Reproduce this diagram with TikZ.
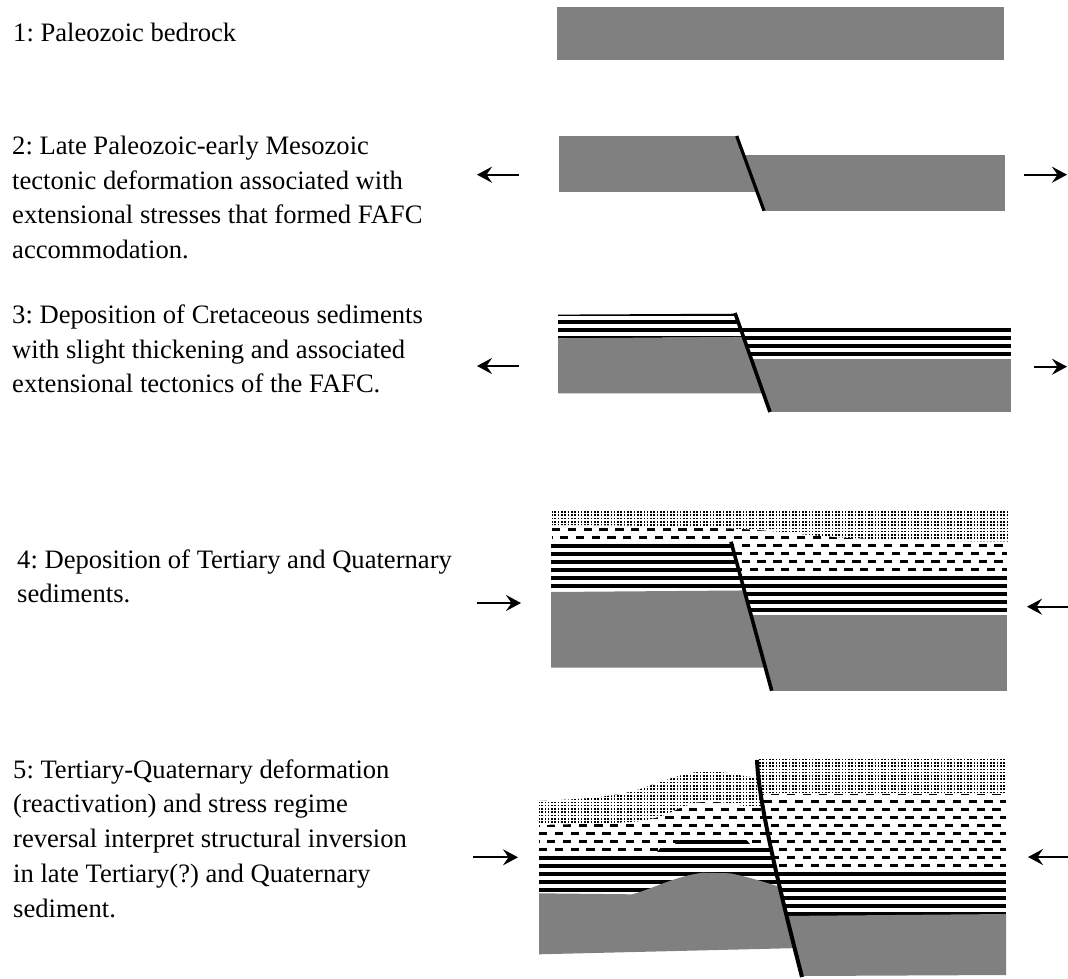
\documentclass[tikz,border=0pt]{standalone}
\usepackage{fontspec}
\setmainfont{Liberation Serif}
\usetikzlibrary{arrows.meta,patterns,calc}
\definecolor{bedrock}{gray}{0.5}
% square stipple for the sand/gravel cover
\pgfdeclarepatternformonly{sanddots}{\pgfqpoint{-0.5pt}{-0.5pt}}{\pgfqpoint{3.8pt}{3.8pt}}{\pgfqpoint{3.3pt}{3.3pt}}{%
  \pgfpathrectangle{\pgfqpoint{0pt}{0pt}}{\pgfqpoint{1.6pt}{1.6pt}}\pgfusepath{fill}}
\tikzset{
  rock/.style={fill=bedrock},
  fault/.style={line width=3.6pt, line cap=butt},
  stress/.style={line width=2.2pt, -{Stealth[length=15pt,width=16pt,inset=5.5pt]}},
  caption/.style={anchor=base west, inner sep=0pt, font=\fontsize{26.6}{34.8}\selectfont\frenchspacing},
  band/.style={line width=3.7pt},
  shale/.style={line width=2.7pt, dash pattern=on 8.3pt off 7.5pt},
  sand/.style={fill=white, postaction={pattern=sanddots}},
}
% horizontal black beds, one every 8pt (rows #3..#4)
\newcommand\rockbands[4]{\foreach \k in {#3,...,#4}{\draw[band] (#1,8*\k+1.85) -- (#2,8*\k+1.85);}}
% dashed shale rows, staggered by half a dash period
\newcommand\shalerows[4]{%
  \foreach \k in {#3,...,#4}{%
    \ifodd\k \def\shph{7.9pt}\else\def\shph{0pt}\fi
    \draw[shale, dash phase=\shph] (#1,8*\k+1.35) -- (#2,8*\k+1.35);}}
\newcommand\colbox[1]{\begin{tabular}[t]{@{}l@{}}#1\end{tabular}}

\begin{document}
\begin{tikzpicture}[x=1pt,y=-1pt]
\useasboundingbox (0,0) rectangle (1068,978);

% ---------- captions ----------
\node[caption] (cap1) at (13,41.7) {1: Paleozoic bedrock};
\node[caption] (cap2) at (12,154.3) {\colbox{2: Late Paleozoic-early Mesozoic\\ tectonic deformation associated with\\ extensional stresses that formed FAFC\\ accommodation.}};
\node[caption] (cap3) at (12,323.3) {\colbox{3: Deposition of Cretaceous sediments\\ with slight thickening and associated\\ extensional tectonics of the FAFC.}};
\node[caption] (cap4) at (17,568) {\colbox{4: Deposition of Tertiary and Quaternary\\ sediments.}};
\node[caption] (cap5) at (13,778) {\colbox{5: Tertiary-Quaternary deformation\\ (reactivation) and stress regime\\ reversal interpret structural inversion\\ in late Tertiary(?) and Quaternary\\ sediment.}};

% ---------- stage 1 ----------
\fill[rock] (557,7) rectangle (1004,60);

% ---------- stage 2 ----------
\coordinate (f2a) at (736.7,136);
\coordinate (f2b) at (764,210.7);
\begin{scope}
  \clip ($(f2a)!-1!(f2b)$) -- ($(f2a)!2!(f2b)$) -- ++(-400,0) -- ++(0,-400) -- cycle;
  \fill[rock] (559,136) rectangle (800,191.7);
\end{scope}
\begin{scope}
  \clip ($(f2a)!-1!(f2b)$) -- ($(f2a)!2!(f2b)$) -- ++(400,0) -- ++(0,-400) -- cycle;
  \fill[rock] (700,155.3) rectangle (1005,210.7);
\end{scope}
\draw[fault, line width=3.2pt] (f2a) -- (f2b);

% ---------- stage 3 ----------
\coordinate (f3a) at (735,313);
\coordinate (f3b) at (770,412);
\begin{scope}
  \clip ($(f3a)!-1!(f3b)$) -- ($(f3a)!2!(f3b)$) -- ++(-400,0) -- ++(0,-400) -- cycle;
  \begin{scope}
    \clip (558,314.6) -- (800,313.4) -- (800,337) -- (558,338.3) -- cycle;
    \rockbands{558}{800}{39}{42}
  \end{scope}
  \fill[rock] (558,338.3) -- (800,336.5) -- (800,393.3) -- (558,393.3) -- cycle;
\end{scope}
\begin{scope}
  \clip ($(f3a)!-1!(f3b)$) -- ($(f3a)!2!(f3b)$) -- ++(400,0) -- ++(0,-400) -- cycle;
  \begin{scope}
    \clip (700,327.8) rectangle (1011,358.7);
    \rockbands{700}{1011}{41}{44}
  \end{scope}
  \fill[rock] (700,358.7) rectangle (1011,412);
\end{scope}
\draw[fault] (f3a) -- (f3b);

% ---------- stage 4 ----------
\coordinate (f4a) at (731,541.7);
\coordinate (f4b) at (771.7,690.7);
\begin{scope}
  \clip ($(f4a)!-1!(f4b)$) -- ($(f4a)!2!(f4b)$) -- ++(-400,0) -- ++(0,-400) -- cycle;
  \begin{scope}
    \clip (552,512) rectangle (800,543);
    \shalerows{552}{800}{64}{67}
  \end{scope}
  \begin{scope}
    \clip (551,543) -- (800,543) -- (800,590) -- (551,592) -- cycle;
    \rockbands{551}{800}{68}{73}
  \end{scope}
  \fill[rock] (551,592) -- (800,590) -- (800,667.7) -- (551,667.7) -- cycle;
\end{scope}
\begin{scope}
  \clip ($(f4a)!-1!(f4b)$) -- ($(f4a)!2!(f4b)$) -- ++(400,0) -- ++(0,-400) -- cycle;
  \begin{scope}
    \clip (552,512) rectangle (1007,575);
    \shalerows{552}{1007}{64}{71}
  \end{scope}
  \begin{scope}
    \clip (700,575) rectangle (1007,615);
    \rockbands{700}{1007}{72}{76}
  \end{scope}
  \fill[rock] (700,615) rectangle (1006.7,690.7);
\end{scope}
\path[sand] (552,509) -- (1009,509) -- (1009,541.5)
  .. controls (900,541) and (850,539) .. (800,534)
  .. controls (760,529) and (700,525.5) .. (552,525) -- cycle;
\draw[fault] (f4a) -- (f4b);

% ---------- stage 5 ----------
\coordinate (f5a) at (757,760);
\coordinate (f5c1) at (758.5,800);
\coordinate (f5c2) at (777,880);
\coordinate (f5b) at (802,977);
% hanging wall (left of the fault)
\begin{scope}
  \clip (754.75,700) -- (f5a) .. controls (f5c1) and (f5c2) .. (f5b) -- (808,1000) -- (500,1000) -- (500,700) -- cycle;
  \begin{scope}
    \clip plot[smooth] coordinates {(539,801) (590,798) (630,792) (660,782) (690,773) (720,772) (745,776) (775,780)}
      -- (800,780) -- (800,846) -- (752,846) -- (745,838.5) -- (682,838.5)
      -- (672,846) -- (662,846) -- (655,854.5) -- (539,854.5) -- cycle;
    \shalerows{539}{800}{98}{106}
  \end{scope}
  \begin{scope}
    \clip (539,854.5) -- (655,854.5) -- (662,846) -- (672,846) -- (682,838.5) -- (745,838.5)
      -- (752,846) -- (800,846) -- (800,960) -- (539,960) -- cycle;
    \rockbands{539}{800}{104}{115}
  \end{scope}
  \fill[rock] (539,893.3) -- (632,894.3) .. controls (650,890) and (675,876) .. (703,872.7)
    -- (730,873.3) .. controls (750,877) and (770,884) .. (800,893)
    -- (800,948) -- (539,954.3) -- cycle;
  \path[sand] plot[smooth] coordinates {(539,801) (590,798) (630,792) (660,782) (690,773) (720,772) (745,776) (775,780)}
    -- plot[smooth] coordinates {(775,810) (745,806) (718,802) (697,802.5) (680,808) (660,816.5) (630,822) (539,825)}
    -- cycle;
\end{scope}
% footwall (right of the fault)
\begin{scope}
  \clip (754.75,700) -- (f5a) .. controls (f5c1) and (f5c2) .. (f5b) -- (808,1000) -- (1068,1000) -- (1068,700) -- cycle;
  \begin{scope}
    \clip (700,794) rectangle (1006,871);
    \shalerows{700}{1006}{99}{108}
  \end{scope}
  \begin{scope}
    \clip (700,871) rectangle (1006,915.5);
    \rockbands{700}{1006}{109}{114}
  \end{scope}
  \fill[rock] (700,916.7) -- (1006,914) -- (1006,975) -- (700,976.5) -- cycle;
  \path[sand] (700,758.3) rectangle (1006,794);
\end{scope}
\draw[fault, line width=4pt] (f5a) .. controls (f5c1) and (f5c2) .. (f5b);

% ---------- stress arrows ----------
\coordinate (s2l) at (519,174.7);  \coordinate (t2l) at (477,174.7);
\coordinate (s2r) at (1024,174.7); \coordinate (t2r) at (1067,174.7);
\coordinate (s3l) at (519,366);    \coordinate (t3l) at (477,366);
\coordinate (s3r) at (1034,366.7); \coordinate (t3r) at (1067,366.7);
\coordinate (s4l) at (477,603);    \coordinate (t4l) at (521,603);
\coordinate (s4r) at (1068,606.7); \coordinate (t4r) at (1027,606.7);
\coordinate (s5l) at (473,857.3);  \coordinate (t5l) at (518,857.3);
\coordinate (s5r) at (1068,857);   \coordinate (t5r) at (1028,857);
\draw[stress] (s2l) -- (t2l);
\draw[stress] (s2r) -- (t2r);
\draw[stress] (s3l) -- (t3l);
\draw[stress] (s3r) -- (t3r);
\draw[stress] (s4l) -- (t4l);
\draw[stress] (s4r) -- (t4r);
\draw[stress] (s5l) -- (t5l);
\draw[stress] (s5r) -- (t5r);
\end{tikzpicture}
\end{document}
